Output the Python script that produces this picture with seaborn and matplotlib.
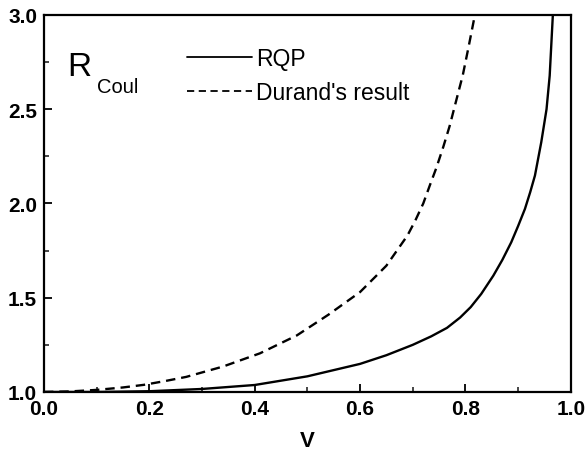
import numpy as np
import pandas as pd
import matplotlib
matplotlib.use("Agg")
import matplotlib.pyplot as plt
import seaborn as sns
from matplotlib.ticker import MultipleLocator

# values
v_rqp = [0.0, 0.1, 0.2, 0.3, 0.4, 0.5, 0.6, 0.65, 0.7, 0.735, 0.765, 0.79,
         0.81, 0.83, 0.853, 0.87, 0.887, 0.90, 0.913, 0.923, 0.932, 0.944,
         0.954, 0.960, 0.966]
r_rqp = [1.0, 1.0, 1.004, 1.016, 1.037, 1.083, 1.149, 1.195, 1.25, 1.295,
         1.34, 1.395, 1.45, 1.52, 1.617, 1.70, 1.794, 1.88, 1.971, 2.06,
         2.148, 2.325, 2.50, 2.678, 3.0]

v_durand = [0.0, 0.05, 0.1, 0.15, 0.19, 0.23, 0.27, 0.34, 0.41, 0.48, 0.54,
            0.57, 0.60, 0.625, 0.65, 0.67, 0.69, 0.705, 0.72, 0.733, 0.745,
            0.758, 0.77, 0.782, 0.795, 0.806, 0.818]
r_durand = [1.0, 1.003, 1.011, 1.024, 1.038, 1.058, 1.08, 1.135, 1.205, 1.30,
            1.41, 1.47, 1.53, 1.60, 1.67, 1.75, 1.83, 1.91, 2.0, 2.10, 2.19,
            2.30, 2.41, 2.54, 2.68, 2.83, 3.0]

labels = ["RQP", "Durand's result"]

df = pd.concat([
    pd.DataFrame({"V": v_rqp, "R": r_rqp, "curve": labels[0]}),
    pd.DataFrame({"V": v_durand, "R": r_durand, "curve": labels[1]}),
])

sns.set_theme(style="ticks")
plt.rcParams["font.family"] = ["Liberation Sans", "DejaVu Sans"]
plt.rcParams["text.color"] = "black"
plt.rcParams["axes.labelcolor"] = "black"

fig = plt.figure(figsize=(5.86, 4.6), dpi=100)
ax = fig.add_axes([0.075, 0.1457, 0.899, 0.8196])

sns.lineplot(
    data=df, x="V", y="R", hue="curve", style="curve",
    palette=["black", "black"],
    dashes={labels[0]: "", labels[1]: (4, 2.5)},
    linewidth=1.7, sort=False, estimator=None, ax=ax, legend=True
)

ax.set_xlim(0, 1.0)
ax.set_ylim(1.0, 3.0)
ax.xaxis.set_major_locator(MultipleLocator(0.2))
ax.xaxis.set_minor_locator(MultipleLocator(0.1))
ax.yaxis.set_major_locator(MultipleLocator(0.5))
ax.yaxis.set_minor_locator(MultipleLocator(0.25))
ax.xaxis.set_major_formatter(plt.FormatStrFormatter("%.1f"))
ax.yaxis.set_major_formatter(plt.FormatStrFormatter("%.1f"))

ax.tick_params(which="major", direction="in", length=6, width=1.3,
               labelsize=15, pad=5, colors="black")
ax.tick_params(which="minor", direction="in", length=3.5, width=1.2)
for lab in ax.get_xticklabels() + ax.get_yticklabels():
    lab.set_fontweight("bold")

for sp in ax.spines.values():
    sp.set_visible(True)
    sp.set_linewidth(1.6)
    sp.set_color("black")

ax.set_xlabel("V", fontsize=16, fontweight="bold", labelpad=9)
ax.set_ylabel("")

ax.text(0.044, 0.841, "R", transform=ax.transAxes, fontsize=24,
        ha="left", va="baseline")
ax.text(0.100, 0.796, "Coul", transform=ax.transAxes, fontsize=14.5,
        ha="left", va="baseline")

leg = ax.legend(loc="upper left", bbox_to_anchor=(0.255, 0.94),
                frameon=False, fontsize=16.5, handlelength=2.8,
                handletextpad=0.2, labelspacing=0.5, borderaxespad=0)
for line in leg.get_lines():
    line.set_linewidth(1.3)
for t in leg.get_texts():
    t.set_color("black")

fig.savefig("out.png", dpi=100)
